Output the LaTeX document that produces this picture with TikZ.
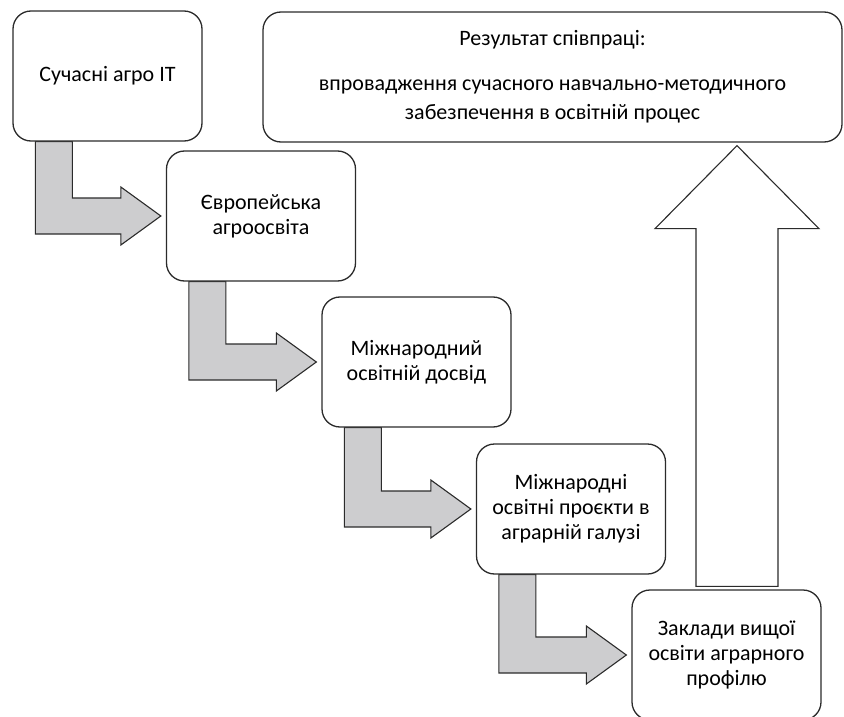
\documentclass[tikz,border=0pt]{standalone}
\usepackage{fontspec}
\setmainfont{Carlito}
\usetikzlibrary{calc, backgrounds}
\definecolor{cline}{HTML}{2B2B2B}
\definecolor{cfill}{HTML}{CDCDCF}
\tikzset{
  every picture/.style={x=1pt, y=-1pt, font=\fontsize{22}{25}\selectfont},
  box/.style={draw=cline, fill=white, rounded corners=18pt, align=center, line width=1.3pt, minimum width=189pt, minimum height=130pt, inner sep=4pt},
  bentarrow/.style={draw=cline, fill=cfill, line width=1.1pt, line join=miter},
  uparrow/.style={draw=cline, fill=white, line width=1.1pt, line join=miter},
}

\begin{document}
\begin{tikzpicture}
  \useasboundingbox (0,0) rectangle (844,717);
  \clip (0,0) rectangle (844,717);
  % the five steps, going down to the right
  \foreach \n/\x/\y/\txt in {
      s1/107.5/76/{Сучасні агро IT},
      s2/261/216/{Європейська\\агроосвіта},
      s3/416.5/362/{Міжнародний\\освітній досвід},
      s4/571/509/{Міжнародні\\освітні проєкти в\\аграрній галузі},
      s5/726.5/655/{Заклади вищої\\освіти аграрного\\профілю}} {
    \node[box] (\n) at (\x,\y) {\txt};
  }
  \node[box, minimum width=579pt] (res) at (552.5,77)
    {Результат співпраці:\\[20pt]впровадження сучасного навчально-методичного\\[4pt]забезпечення в освітній процес};
  % grey bent arrows between the steps
  \begin{scope}[on background layer]
    \foreach \a/\b in {s1/s2, s2/s3, s3/s4, s4/s5}
      \draw[bentarrow] ($(\a.south west)+(23,0)$) -- ($(\a.south west)+(60,0)$)
        |- ($(\b.west)+(-45,-18)$) -- ($(\b.west)+(-45,-29)$) -- ($(\b.west)+(-5,0)$)
        -- ($(\b.west)+(-45,29)$) -- ($(\b.west)+(-45,18)$) -| ($(\a.south west)+(23,0)$) -- cycle;
  \end{scope}
  % big white arrow up to the result
  \coordinate (ub) at ($(s5.north)+(10.5,-3)$);
  \coordinate (ut) at ($(ub |- res.south)+(0,3)$);
  \draw[uparrow] ($(ub)+(-41,0)$) -- ($(ub)+(41,0)$) -- ($(ut)+(41,83)$) -- ($(ut)+(82,83)$)
    -- (ut) -- ($(ut)+(-82,83)$) -- ($(ut)+(-41,83)$) -- cycle;
\end{tikzpicture}
\end{document}
